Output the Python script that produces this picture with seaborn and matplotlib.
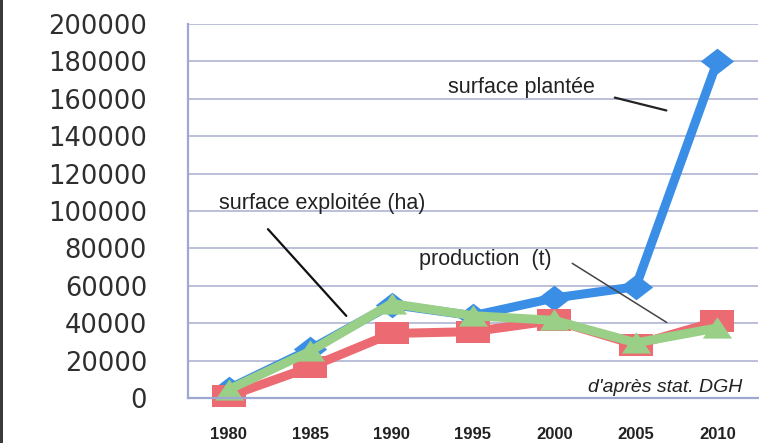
# Surface plantée / exploitée et production, 1980-2010 (d'après stat. DGH)

import matplotlib

matplotlib.use("Agg")
import matplotlib.pyplot as plt
from matplotlib.patches import Rectangle
from matplotlib.ticker import FixedLocator, FuncFormatter
import pandas as pd
import seaborn as sns


YEARS = [1980, 1985, 1990, 1995, 2000, 2005, 2010]
SURFACE_PLANTEE = [5000, 26000, 50000, 44000, 53500, 59500, 180000]
PRODUCTION = [1000, 16500, 34500, 35500, 41500, 28500, 41000]
SURFACE_EXPLOITEE = [4500, 25000, 50500, 44000, 41500, 29500, 37500]
Y_TICKS = list(range(0, 200001, 20000))

GRID = "#a9aed0"
AXIS = "#9ea8d2"

# marqueurs "étirés" comme sur le scan
DIAMOND = [(-1.3, 0), (0, 1), (1.3, 0), (0, -1)]
SQUARE = [(-1.45, -1), (1.45, -1), (1.45, 1), (-1.45, 1)]
TRIANGLE = [(-1.3, -0.9), (1.3, -0.9), (0, 1)]


def setup_style() -> None:
    sns.set_style("white")
    plt.rcParams["font.family"] = ["Liberation Sans", "DejaVu Sans"]
    plt.rcParams["axes.unicode_minus"] = False


if __name__ == "__main__":
    setup_style()

    series = [
        ("surface plantée", SURFACE_PLANTEE, "#3b8ee6", DIAMOND, 24),
        ("production (t)", PRODUCTION, "#ec6b72", SQUARE, 24),
        ("surface exploitée (ha)", SURFACE_EXPLOITEE, "#99cf86", TRIANGLE, 21),
    ]

    fig = plt.figure(figsize=(7.59, 4.43), dpi=100)
    ax = fig.add_axes([188 / 759, 45 / 443, 570 / 759, 374 / 443])

    for name, values, color, marker, msize in series:
        df = pd.DataFrame({"annee": YEARS, "valeur": values})
        sns.lineplot(
            data=df,
            x="annee",
            y="valeur",
            color=color,
            linewidth=6.5,
            marker=marker,
            markersize=msize,
            markeredgewidth=0,
            ax=ax,
            clip_on=False,
        )

    ax.set_xlim(YEARS[0] - 2.5, YEARS[-1] + 2.5)
    ax.set_ylim(0, 200000)
    ax.set_xlabel("")
    ax.set_ylabel("")

    ax.set_yticks(Y_TICKS)
    ax.yaxis.set_major_formatter(FuncFormatter(lambda v, _: f"{int(v)}"))
    ax.grid(axis="y", color=GRID, linewidth=1.1)
    ax.set_axisbelow(True)
    ax.tick_params(axis="y", length=9.5, width=1.1, color=GRID, pad=20,
                   labelsize=18.5, labelcolor="#2e2e2e")
    for lab in ax.get_yticklabels():
        lab.set_family("DejaVu Sans")

    ax.set_xticks(YEARS)
    ax.xaxis.set_minor_locator(FixedLocator([y - 2.5 for y in YEARS] + [YEARS[-1] + 2.5]))
    ax.tick_params(axis="x", which="major", length=0, pad=21, labelsize=12,
                   labelcolor="#222222")
    ax.tick_params(axis="x", which="minor", length=4.5, width=1.5, color=AXIS,
                   direction="out")
    for lab in ax.get_xticklabels():
        lab.set_fontweight("bold")

    sns.despine(ax=ax, top=True, right=True)
    ax.spines["left"].set_color(AXIS)
    ax.spines["left"].set_linewidth(1.6)
    ax.spines["bottom"].set_color(AXIS)
    ax.spines["bottom"].set_linewidth(1.6)

    # étiquettes et traits de rappel
    ax.text(0.456, 0.829, "surface plantée", transform=ax.transAxes,
            ha="left", va="center", fontsize=15.5, color="#222222")
    ax.annotate("", xy=(0.844, 0.767), xytext=(0.744, 0.805),
                xycoords="axes fraction", textcoords="axes fraction",
                arrowprops=dict(arrowstyle="-", color="#222222", lw=1.6))

    ax.text(0.054, 0.521, "surface exploitée (ha)", transform=ax.transAxes,
            ha="left", va="center", fontsize=15.5, color="#222222")
    ax.annotate("", xy=(0.281, 0.214), xytext=(0.137, 0.457),
                xycoords="axes fraction", textcoords="axes fraction",
                arrowprops=dict(arrowstyle="-", color="#111111", lw=1.6))

    ax.text(0.405, 0.369, "production  (t)", transform=ax.transAxes,
            ha="left", va="center", fontsize=15.5, color="#222222")
    ax.annotate("", xy=(0.844, 0.198), xytext=(0.670, 0.364),
                xycoords="axes fraction", textcoords="axes fraction",
                arrowprops=dict(arrowstyle="-", color="#444444", lw=1.1))

    ax.text(0.972, 0.029, "d'après stat. DGH", transform=ax.transAxes,
            ha="right", va="center", fontsize=14, style="italic", color="#222222")

    # bord sombre du scan
    fig.add_artist(Rectangle((0, 0), 3 / 759, 1, transform=fig.transFigure,
                             color="#3a3a3a", lw=0))

    fig.savefig("out.png", dpi=100)
    plt.close(fig)
